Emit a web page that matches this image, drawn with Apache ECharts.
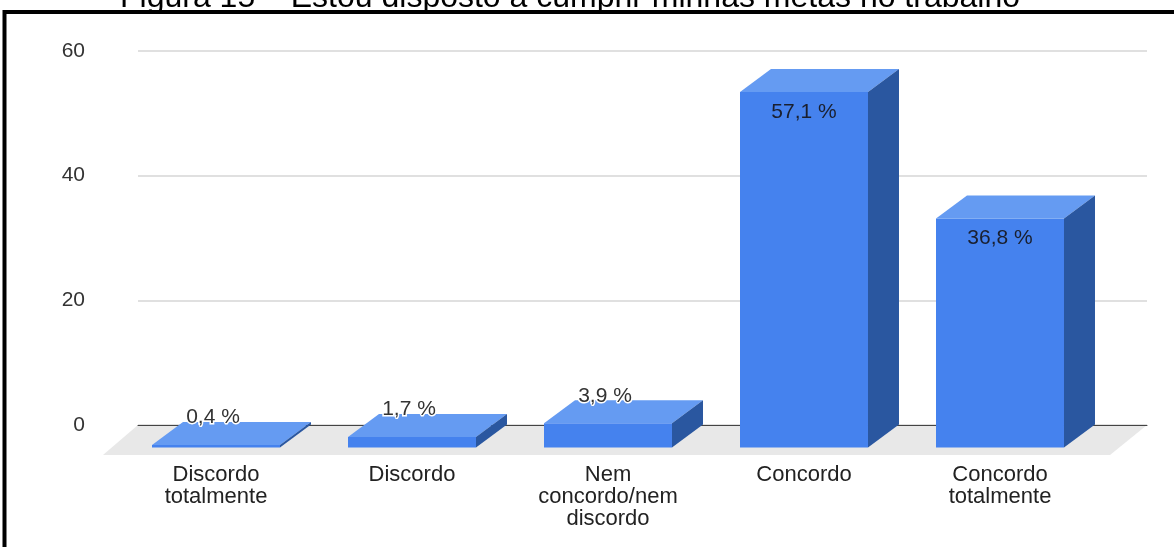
<!DOCTYPE html>
<html>
<head>
<meta charset="utf-8">
<script src="https://cdn.jsdelivr.net/npm/echarts@6/dist/echarts.min.js"></script>
<style>
  html, body { margin: 0; padding: 0; background: #ffffff; }
  #chart { width: 1174px; height: 547px; }
</style>
</head>
<body>
<div id="chart"></div>
<script>
// Survey answers and their shares (%)
const titleText = 'Figura 15 – Estou disposto a cumprir minhas metas no trabalho';
const categories = ['Discordo\ntotalmente', 'Discordo', 'Nem\nconcordo/nem\ndiscordo', 'Concordo', 'Concordo\ntotalmente'];
const values = [0.4, 1.7, 3.9, 57.1, 36.8];
const valueLabels = ['0,4 %', '1,7 %', '3,9 %', '57,1 %', '36,8 %'];
const yMin = 0, yMax = 60, yStep = 20;

const FONT = "'Liberation Sans', Arial, sans-serif";
// extrusion of the boxes (towards the back-right)
const DEPTH_X = 31, DEPTH_Y = -23;
const BAR_RATIO = 0.653;
const COLOR_FRONT = '#4582ee';
const COLOR_TOP = '#659bf2';
const COLOR_SIDE = '#2a57a0';

const chart = echarts.init(document.getElementById('chart'), null, { renderer: 'canvas' });

// gray floor below the boxes, drawn along the back grid's zero line
function renderFloor(params, api) {
  const cs = params.coordSys;
  const y = api.coord([0, 0])[1];
  return {
    type: 'polygon',
    shape: { points: [[cs.x, y], [cs.x + cs.width, y], [cs.x + cs.width - 37, y + 30], [cs.x - 35, y + 30]] },
    style: { fill: '#e8e8e8' }
  };
}

// one extruded box per category: front face, top face, right side, value label
function renderBox(params, api) {
  const i = api.value(0);
  const v = api.value(1);
  const base = api.coord([i, 0]);
  const peak = api.coord([i, v]);
  const bw = api.size([1, 0])[0] * BAR_RATIO;
  const l = base[0] - bw / 2, r = l + bw, b = base[1], t = peak[1];
  const inside = b - t > 40;
  return {
    type: 'group',
    children: [
      { type: 'rect', shape: { x: l, y: t, width: bw, height: b - t }, style: { fill: COLOR_FRONT } },
      { type: 'polygon', shape: { points: [[l, t], [r, t], [r + DEPTH_X, t + DEPTH_Y], [l + DEPTH_X, t + DEPTH_Y]] }, style: { fill: COLOR_TOP } },
      { type: 'polygon', shape: { points: [[r, t], [r + DEPTH_X, t + DEPTH_Y], [r + DEPTH_X, b + DEPTH_Y], [r, b]] }, style: { fill: COLOR_SIDE } },
      {
        type: 'text',
        x: inside ? base[0] : base[0] - 3,
        y: inside ? t + 20 : t + DEPTH_Y - 4.5,
        style: inside ? {
          text: valueLabels[i], fontFamily: FONT, fontSize: 21, fill: '#1a1f2e',
          align: 'center', verticalAlign: 'middle'
        } : {
          text: valueLabels[i], fontFamily: FONT, fontSize: 21, fill: '#333333',
          stroke: '#ffffff', lineWidth: 3, align: 'center', verticalAlign: 'middle'
        }
      }
    ]
  };
}

const option = {
  animation: false,
  backgroundColor: '#ffffff',
  textStyle: { fontFamily: FONT },
  grid: [
    { left: 138, right: 27, top: 51, bottom: 122 },
    { left: 118, right: 76, top: 74, bottom: 99.5 }
  ],
  xAxis: [
    {
      gridIndex: 0, type: 'value', min: 0, max: 1, z: 3,
      axisLine: { show: true, lineStyle: { color: '#444444', width: 1 } },
      axisTick: { show: false }, axisLabel: { show: false }, splitLine: { show: false }
    },
    {
      gridIndex: 1, type: 'category', data: categories,
      axisLine: { show: false }, axisTick: { show: false },
      axisLabel: { interval: 0, margin: 16, fontFamily: FONT, fontSize: 22, lineHeight: 22, color: '#222222', align: 'center' }
    }
  ],
  yAxis: [
    {
      gridIndex: 0, type: 'value', min: yMin, max: yMax, interval: yStep, z: 3,
      axisLine: { show: false }, axisTick: { show: false },
      axisLabel: { margin: 53, fontFamily: FONT, fontSize: 21, color: '#333333' },
      splitLine: { lineStyle: { color: '#d6d6d6', width: 1.5 } }
    },
    { gridIndex: 1, type: 'value', min: yMin, max: yMax, interval: yStep, show: false }
  ],
  series: [
    {
      type: 'custom', xAxisIndex: 0, yAxisIndex: 0, z: 1, silent: true,
      renderItem: renderFloor, data: [[0, 0]]
    },
    {
      type: 'custom', xAxisIndex: 1, yAxisIndex: 1, z: 5,
      renderItem: renderBox,
      data: values.map((v, i) => [i, v])
    }
  ],
  graphic: [
    {
      type: 'text', x: 570, y: -2, z: 10,
      style: { text: titleText, fontFamily: FONT, fontSize: 32, fill: '#000000', align: 'center', verticalAlign: 'middle' }
    },
    {
      type: 'rect', z: 11,
      shape: { x: 4.5, y: 12, width: 1400, height: 800 },
      style: { fill: 'none', stroke: '#000000', lineWidth: 4 }
    }
  ]
};

chart.setOption(option);
</script>
</body>
</html>
